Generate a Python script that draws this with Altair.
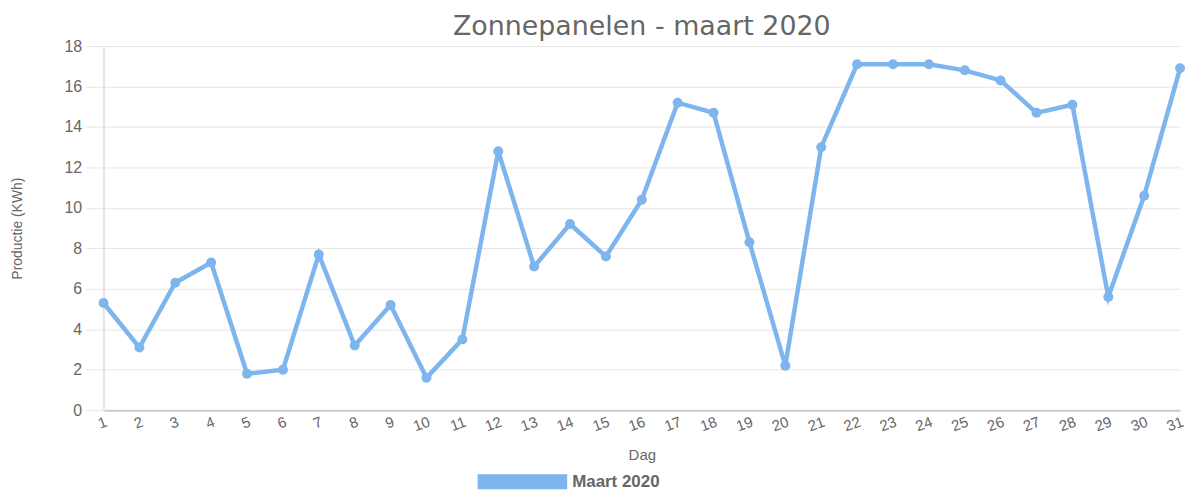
import altair as alt
import pandas as pd

days = list(range(1, 32))
productie = [5.3, 3.1, 6.3, 7.3, 1.8, 2.0, 7.7, 3.2, 5.2, 1.6,
             3.5, 12.8, 7.1, 9.2, 7.6, 10.4, 15.2, 14.7, 8.3, 2.2,
             13.0, 17.1, 17.1, 17.1, 16.8, 16.3, 14.7, 15.1, 5.6, 10.6,
             16.9]
series = ["Maart 2020"] * len(days)

df = pd.DataFrame({"Dag": days, "Productie": productie, "Reeks": series})

COLOR = "#7DB5EC"
FONT = "Liberation Sans"
GREY = "#666666"

color = alt.Color(
    "Reeks:N",
    scale=alt.Scale(range=[COLOR]),
    legend=alt.Legend(
        title=None,
        orient="none",
        legendX=376,
        legendY=393,
        direction="horizontal",
        symbolType="M-1,-0.167H1V0.167H-1Z",
        symbolSize=8100,
        symbolFillColor=COLOR,
        symbolStrokeColor=COLOR,
        symbolStrokeWidth=0,
        symbolOffset=0,
        labelFont=FONT,
        labelFontSize=17,
        labelFontWeight="bold",
        labelColor=GREY,
        labelOffset=5,
    ),
)

x = alt.X(
    "Dag:Q",
    scale=alt.Scale(domain=[1, 31], nice=False, zero=False),
    axis=alt.Axis(
        values=days,
        title="Dag",
        titleFont=FONT,
        titleFontSize=15,
        titleFontWeight="normal",
        titleColor=GREY,
        titlePadding=14,
        labelFont=FONT,
        labelFontSize=15,
        labelColor=GREY,
        labelAngle=-20,
        labelPadding=4,
        grid=False,
        ticks=False,
        domainColor="#cccccc",
        domainWidth=2,
    ),
)

y = alt.Y(
    "Productie:Q",
    scale=alt.Scale(domain=[0, 18], nice=False),
    axis=alt.Axis(
        values=list(range(0, 19, 2)),
        title="Productie (KWh)",
        titleFont=FONT,
        titleFontSize=14,
        titleFontWeight="normal",
        titleColor=GREY,
        titlePadding=40,
        labelFont=FONT,
        labelFontSize=16,
        labelColor=GREY,
        labelPadding=4,
        gridColor="#e6e6e6",
        tickColor="#e6e6e6",
        tickSize=18,
        domainColor="#e6e6e6",
        domainWidth=2,
    ),
)

base = alt.Chart(df).encode(x=x, y=y, color=color)

line = base.mark_line(strokeWidth=4.5)
points = base.mark_point(filled=True, size=100, opacity=1)

chart = (
    alt.layer(line, points)
    .properties(
        width=1082,
        height=366,
        autosize=alt.AutoSizeParams(type="none"),
        padding={"left": 96, "top": 37, "right": 12, "bottom": 88},
        title=alt.TitleParams(
            "Zonnepanelen - maart 2020",
            font="DejaVu Sans",
            fontSize=27,
            fontWeight="normal",
            color=GREY,
            anchor="middle",
            offset=-3,
        ),
    )
    .configure_view(stroke=None)
)

chart.save("out.html", embed_options={"renderer": "svg", "actions": False})
